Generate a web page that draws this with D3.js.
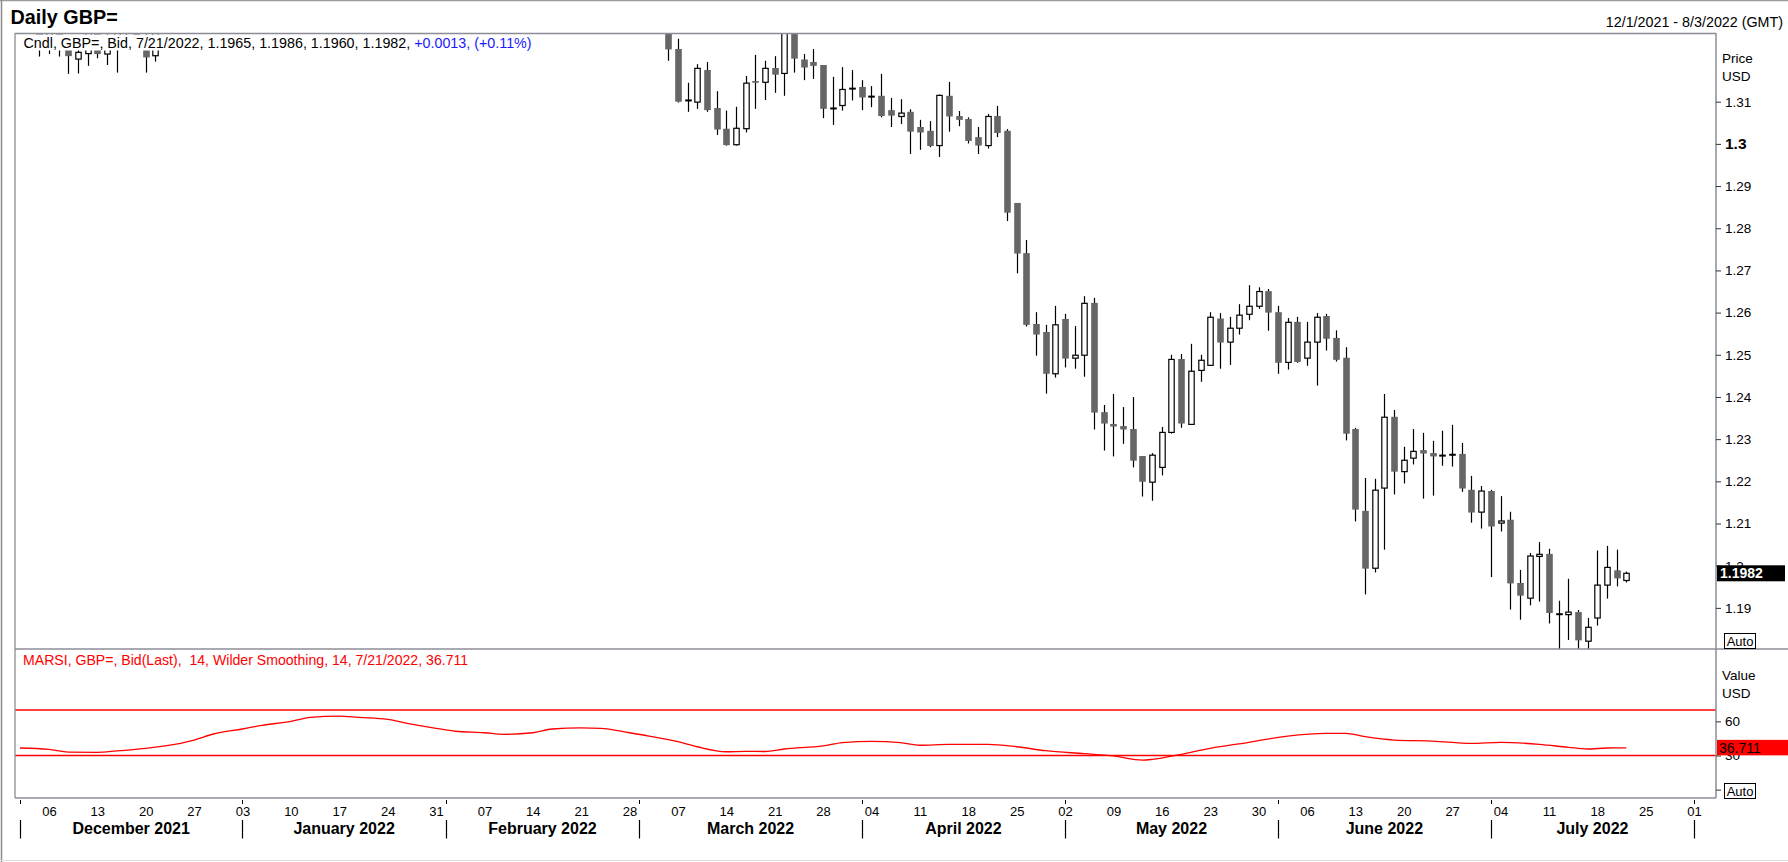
<!DOCTYPE html>
<html><head><meta charset="utf-8">
<script src="https://cdn.jsdelivr.net/npm/d3@7"></script>
<style>
html,body{margin:0;padding:0;background:#fff;overflow:hidden;}
svg{display:block;font-family:"Liberation Sans",Arial,Helvetica,sans-serif;}
</style></head><body>
<svg id="chart" width="1788" height="862"></svg>
<script>
// ---------- DATA ----------
const rangeStart = "2021-12-01";
const rangeEnd = "2022-08-03";

const candleDates = [
 "2021-12-01","2021-12-02","2021-12-03","2021-12-06","2021-12-07","2021-12-08","2021-12-09","2021-12-10",
 "2021-12-13","2021-12-14","2021-12-15","2021-12-16","2021-12-17","2021-12-20","2021-12-21",
 "2022-03-04","2022-03-07","2022-03-08","2022-03-09","2022-03-10","2022-03-11",
 "2022-03-14","2022-03-15","2022-03-16","2022-03-17","2022-03-18",
 "2022-03-21","2022-03-22","2022-03-23","2022-03-24","2022-03-25",
 "2022-03-28","2022-03-29","2022-03-30","2022-03-31","2022-04-01",
 "2022-04-04","2022-04-05","2022-04-06","2022-04-07","2022-04-08",
 "2022-04-11","2022-04-12","2022-04-13","2022-04-14","2022-04-15",
 "2022-04-18","2022-04-19","2022-04-20","2022-04-21","2022-04-22",
 "2022-04-25","2022-04-26","2022-04-27","2022-04-28","2022-04-29",
 "2022-05-02","2022-05-03","2022-05-04","2022-05-05","2022-05-06",
 "2022-05-09","2022-05-10","2022-05-11","2022-05-12","2022-05-13",
 "2022-05-16","2022-05-17","2022-05-18","2022-05-19","2022-05-20",
 "2022-05-23","2022-05-24","2022-05-25","2022-05-26","2022-05-27",
 "2022-05-30","2022-05-31","2022-06-01","2022-06-02","2022-06-03",
 "2022-06-06","2022-06-07","2022-06-08","2022-06-09","2022-06-10",
 "2022-06-13","2022-06-14","2022-06-15","2022-06-16","2022-06-17",
 "2022-06-20","2022-06-21","2022-06-22","2022-06-23","2022-06-24",
 "2022-06-27","2022-06-28","2022-06-29","2022-06-30","2022-07-01",
 "2022-07-04","2022-07-05","2022-07-06","2022-07-07","2022-07-08",
 "2022-07-11","2022-07-12","2022-07-13","2022-07-14","2022-07-15",
 "2022-07-18","2022-07-19","2022-07-20","2022-07-21"
];
const opens = [
 1.3300,1.3275,1.3300,1.3230,1.3265,1.3235,1.3201,1.3214,
 1.3265,1.3213,1.3235,1.3290,1.3330,1.3240,1.3209,
 1.3335,1.3225,1.3103,1.3099,1.3175,1.3085,
 1.3036,1.2998,1.3036,1.3149,1.3146,
 1.3180,1.3167,1.3268,1.3200,1.3194,
 1.3187,1.3084,1.3091,1.3131,1.3135,
 1.3112,1.3114,1.3080,1.3065,1.3076,
 1.3040,1.3031,1.2996,1.3114,1.3066,
 1.3059,1.3016,1.2996,1.3066,1.3031,
 1.2860,1.2741,1.2573,1.2554,1.2455,
 1.2585,1.2492,1.2499,1.2623,1.2364,
 1.2336,1.2331,1.2324,1.2260,1.2198,
 1.2233,1.2316,1.2490,1.2335,1.2463,
 1.2475,1.2586,1.2530,1.2563,1.2596,
 1.2615,1.2651,1.2601,1.2482,1.2578,
 1.2492,1.2530,1.2592,1.2540,1.2493,
 1.2324,1.2130,1.1994,1.2184,1.2353,
 1.2223,1.2255,1.2274,1.2267,1.2261,
 1.2263,1.2265,1.2180,1.2127,1.2177,
 1.2101,1.2109,1.1959,1.1923,1.2022,
 1.2028,1.1885,1.1884,1.1890,1.1821,
 1.1876,1.1954,1.1989,1.1965
];
const highs = [
 1.3370,1.3315,1.3320,1.3290,1.3295,1.3250,1.3232,1.3280,
 1.3290,1.3275,1.3300,1.3375,1.3360,1.3280,1.3290,
 1.3350,1.3249,1.3145,1.3189,1.3194,1.3125,
 1.3079,1.3088,1.3161,1.3211,1.3197,
 1.3208,1.3285,1.3298,1.3213,1.3225,
 1.3187,1.3159,1.3182,1.3175,1.3151,
 1.3137,1.3166,1.3109,1.3106,1.3082,
 1.3057,1.3054,1.3117,1.3147,1.3078,
 1.3063,1.3040,1.3071,1.3090,1.3035,
 1.2860,1.2772,1.2601,1.2571,1.2616,
 1.2597,1.2568,1.2639,1.2635,1.2381,
 1.2407,1.2376,1.2400,1.2260,1.2267,
 1.2329,1.2500,1.2502,1.2526,1.2500,
 1.2601,1.2599,1.2590,1.2620,1.2665,
 1.2660,1.2656,1.2616,1.2587,1.2590,
 1.2578,1.2599,1.2597,1.2558,1.2518,
 1.2327,1.2208,1.2206,1.2407,1.2369,
 1.2282,1.2324,1.2315,1.2296,1.2320,
 1.2334,1.2291,1.2213,1.2189,1.2180,
 1.2165,1.2128,1.1990,1.2030,1.2056,
 1.2040,1.1917,1.1969,1.1895,1.1876,
 1.2036,1.2047,1.2038,1.1986
];
const lows = [
 1.3268,1.3265,1.3207,1.3213,1.3207,1.3166,1.3167,1.3185,
 1.3203,1.3187,1.3169,1.3250,1.3230,1.3169,1.3195,
 1.3197,1.3098,1.3076,1.3083,1.3076,1.3021,
 1.2996,1.2996,1.3027,1.3083,1.3104,
 1.3121,1.3114,1.3169,1.3151,1.3154,
 1.3061,1.3045,1.3079,1.3103,1.3080,
 1.3087,1.3063,1.3040,1.3047,1.2976,
 1.2986,1.2992,1.2969,1.3029,1.3042,
 1.3001,1.2976,1.2989,1.3016,1.2817,
 1.2693,1.2567,1.2498,1.2408,1.2446,
 1.2470,1.2467,1.2448,1.2323,1.2273,
 1.2259,1.2289,1.2233,1.2164,1.2154,
 1.2214,1.2313,1.2327,1.2335,1.2436,
 1.2475,1.2467,1.2476,1.2548,1.2582,
 1.2609,1.2557,1.2455,1.2465,1.2481,
 1.2474,1.2427,1.2510,1.2484,1.2297,
 1.2105,1.1932,1.1984,1.2038,1.2169,
 1.2195,1.2240,1.2159,1.2166,1.2237,
 1.2235,1.2175,1.2102,1.2088,1.1973,
 1.2081,1.1896,1.1872,1.1906,1.1915,
 1.1863,1.1790,1.1824,1.1760,1.1780,
 1.1858,1.1922,1.1951,1.1960
];
const closes = [
 1.3275,1.3300,1.3235,1.3265,1.3235,1.3208,1.3217,1.3265,
 1.3213,1.3240,1.3290,1.3330,1.3240,1.3205,1.3270,
 1.3224,1.3100,1.3103,1.3179,1.3080,1.3034,
 1.2997,1.3037,1.3144,1.3145,1.3179,
 1.3164,1.3270,1.3202,1.3181,1.3185,
 1.3083,1.3084,1.3129,1.3131,1.3110,
 1.3112,1.3066,1.3067,1.3073,1.3029,
 1.3027,1.2995,1.3115,1.3065,1.3057,
 1.3007,1.2996,1.3065,1.3026,1.2837,
 1.2740,1.2571,1.2548,1.2455,1.2571,
 1.2491,1.2499,1.2622,1.2363,1.2337,
 1.2330,1.2323,1.2249,1.2199,1.2262,
 1.2316,1.2489,1.2337,1.2461,1.2487,
 1.2589,1.2529,1.2563,1.2594,1.2615,
 1.2650,1.2600,1.2481,1.2577,1.2483,
 1.2530,1.2589,1.2538,1.2488,1.2313,
 1.2133,1.1993,1.2179,1.2352,1.2223,
 1.2250,1.2271,1.2266,1.2259,1.2261,
 1.2263,1.2183,1.2126,1.2177,1.2093,
 1.2106,1.1958,1.1929,1.2023,1.2027,
 1.1888,1.1885,1.1890,1.1823,1.1854,
 1.1954,1.1996,1.1970,1.1982
];

const rsiDates = [
 "2021-12-01","2021-12-06","2021-12-08","2021-12-13","2021-12-15","2021-12-20","2021-12-22","2021-12-27","2021-12-29",
 "2022-01-03","2022-01-05","2022-01-10","2022-01-12","2022-01-17","2022-01-19","2022-01-24","2022-01-26","2022-01-31",
 "2022-02-02","2022-02-07","2022-02-09","2022-02-14","2022-02-16","2022-02-21","2022-02-23","2022-02-28",
 "2022-03-02","2022-03-07","2022-03-09","2022-03-14","2022-03-16","2022-03-18","2022-03-22","2022-03-28","2022-03-30",
 "2022-04-04","2022-04-07","2022-04-11","2022-04-14","2022-04-20","2022-04-25","2022-04-28",
 "2022-05-04","2022-05-09","2022-05-12","2022-05-13","2022-05-18","2022-05-23","2022-05-27",
 "2022-06-02","2022-06-08","2022-06-10","2022-06-14","2022-06-17","2022-06-23","2022-06-29",
 "2022-07-04","2022-07-08","2022-07-13","2022-07-15","2022-07-19","2022-07-21"
];
const rsiValues = [
 36.6,35.4,33.0,32.8,34.0,36.3,38.4,43.6,48.9,
 53.3,56.5,60.0,63.5,64.7,63.5,61.8,58.3,53.9,
 51.3,50.0,48.6,50.0,53.3,54.2,53.9,50.0,
 47.1,42.1,37.7,33.3,33.6,33.5,35.7,38.4,41.3,
 42.5,41.3,39.0,39.8,39.8,37.7,34.2,
 31.6,29.6,26.0,26.6,31.0,36.3,41.6,
 47.1,49.5,49.5,46.5,43.6,42.7,40.7,
 41.6,39.8,37.2,35.7,36.6,36.711
];

const priceTicks = [1.19,1.20,1.21,1.22,1.23,1.24,1.25,1.26,1.27,1.28,1.29,1.30,1.31];
const rsiTicks = [0,30,60];
const rsiBands = [30,70];
const monthStarts = ["2021-12-01","2022-01-03","2022-02-01","2022-03-01","2022-04-01","2022-05-02","2022-06-01","2022-07-01","2022-08-01"];
const monthNames = ["December 2021","January 2022","February 2022","March 2022","April 2022","May 2022","June 2022","July 2022"];

const titleText = "Daily GBP=";
const rangeText = "12/1/2021 - 8/3/2022 (GMT)";
const legendBlack = "Cndl, GBP=, Bid, 7/21/2022, 1.1965, 1.1986, 1.1960, 1.1982, ";
const legendBlue = "+0.0013, (+0.11%)";
const rsiLegend = "MARSI, GBP=, Bid(Last),\u00a0 14, Wilder Smoothing, 14, 7/21/2022, 36.711";
const lastPrice = 1.1982;
const lastRsi = 36.711;

// ---------- LAYOUT ----------
const P = {left:15, right:1716, top:33, mid:649, bottom:798};
const GRAY = "#8c8c98";
const svg = d3.select("#chart");

const parse = d3.timeParse("%Y-%m-%d");
const fmtKey = d3.timeFormat("%Y-%m-%d");
const days = d3.timeDay.range(parse(rangeStart), d3.timeDay.offset(parse(rangeEnd),1))
  .filter(d => d.getDay() !== 0 && d.getDay() !== 6).map(fmtKey);
const x = d3.scalePoint().domain(days).range([19.9, 1713.4]);
const y = d3.scaleLinear().domain([1.20, 1.31]).range([565.7, 101.7]);
const yR = d3.scaleLinear().domain([30, 70]).range([755.5, 710]);

// outer frame
svg.append("rect").attr("x",0).attr("y",0).attr("width",1788).attr("height",862).attr("fill","#fff");
svg.append("line").attr("x1",0).attr("x2",1788).attr("y1",0.5).attr("y2",0.5).attr("stroke","#9a9a9a").attr("stroke-width",1.5);
svg.append("line").attr("x1",1.5).attr("x2",1.5).attr("y1",0).attr("y2",862).attr("stroke","#8a8a8a").attr("stroke-width",1.5);
svg.append("line").attr("x1",0).attr("x2",1788).attr("y1",860.5).attr("y2",860.5).attr("stroke","#dcdcdc").attr("stroke-width",1);

// title
svg.append("text").attr("x",10.5).attr("y",23.5).attr("font-size",19.8).attr("font-weight","bold").text(titleText);
svg.append("text").attr("x",1783).attr("y",26.5).attr("text-anchor","end").attr("font-size",14.3).text(rangeText);

// clip paths
const defs = svg.append("defs");
defs.append("clipPath").attr("id","clipMain").append("rect")
  .attr("x",P.left).attr("y",P.top).attr("width",P.right-P.left).attr("height",P.mid-P.top);
defs.append("clipPath").attr("id","clipRsi").append("rect")
  .attr("x",P.left).attr("y",P.mid).attr("width",P.right-P.left).attr("height",P.bottom-P.mid);

// ---------- CANDLES ----------
const candles = candleDates.map((d,i)=>({d, o:opens[i], h:highs[i], l:lows[i], c:closes[i]}));
const gC = svg.append("g").attr("clip-path","url(#clipMain)");
gC.selectAll("line.wick").data(candles).join("line").attr("class","wick")
  .attr("x1",d=>Math.round(x(d.d))+0.5).attr("x2",d=>Math.round(x(d.d))+0.5)
  .attr("y1",d=>y(d.h)).attr("y2",d=>y(d.l))
  .attr("stroke","#000").attr("stroke-width",1.2);
const bw = 6.6;
gC.selectAll("rect.body").data(candles).join("rect").attr("class","body")
  .each(function(d){
    const sel = d3.select(this);
    const cx = Math.round(x(d.d))+0.5;
    const top = y(Math.max(d.o,d.c)), bot = y(Math.min(d.o,d.c));
    if (d.o === d.c) {
      sel.attr("x",cx-bw/2).attr("width",bw).attr("y",top-1).attr("height",2).attr("fill","#000");
    } else if (d.c > d.o) {
      sel.attr("x",cx-bw/2+0.6).attr("width",bw-1.2).attr("y",top).attr("height",Math.max(1,bot-top))
        .attr("fill","#fff").attr("stroke","#000").attr("stroke-width",1.2);
    } else {
      sel.attr("x",cx-bw/2).attr("width",bw).attr("y",top).attr("height",Math.max(1.2,bot-top))
        .attr("fill","#666666");
    }
  });

// price legend with white background
const leg = svg.append("g");
const legRect = leg.append("rect").attr("x",20).attr("y",34.5).attr("height",16).attr("fill","#fff");
const legText = leg.append("text").attr("x",23.5).attr("y",48).attr("font-size",14.3);
legText.append("tspan").attr("fill","#000").text(legendBlack);
legText.append("tspan").attr("fill","#1a1aff").text(legendBlue);
legRect.attr("width", legText.node().getComputedTextLength()+6);

// ---------- RSI ----------
const gR = svg.append("g").attr("clip-path","url(#clipRsi)");
gR.selectAll("line.band").data(rsiBands).join("line").attr("class","band")
  .attr("x1",P.left).attr("x2",P.right).attr("y1",d=>yR(d)).attr("y2",d=>yR(d))
  .attr("stroke","#ff0000").attr("stroke-width",1.4);
const rsi = rsiDates.map((d,i)=>({d, v:rsiValues[i]}));
gR.append("path").datum(rsi)
  .attr("d", d3.line().x(d=>x(d.d)).y(d=>yR(d.v)).curve(d3.curveMonotoneX))
  .attr("fill","none").attr("stroke","#ff0000").attr("stroke-width",1.3);
svg.append("text").attr("x",23).attr("y",664.5).attr("font-size",14.1).attr("fill","#ff0000").text(rsiLegend);

// ---------- PANEL BORDERS ----------
svg.append("line").attr("x1",P.left).attr("x2",P.right).attr("y1",P.top+0.5).attr("y2",P.top+0.5).attr("stroke",GRAY).attr("stroke-width",1.3);
svg.append("line").attr("x1",P.left).attr("x2",1788).attr("y1",P.mid).attr("y2",P.mid).attr("stroke",GRAY).attr("stroke-width",1.5);
svg.append("line").attr("x1",P.left).attr("x2",P.right).attr("y1",P.bottom).attr("y2",P.bottom).attr("stroke",GRAY).attr("stroke-width",1.5);
svg.append("line").attr("x1",P.left).attr("x2",P.left).attr("y1",P.top).attr("y2",P.bottom).attr("stroke",GRAY).attr("stroke-width",1.3);
svg.append("line").attr("x1",P.right).attr("x2",P.right).attr("y1",P.top).attr("y2",P.bottom).attr("stroke",GRAY).attr("stroke-width",1.5);

// ---------- PRICE AXIS ----------
const fmtP = d3.format(".2f");
const axP = svg.append("g").attr("transform",`translate(${P.right},0)`)
  .call(d3.axisRight(y).tickValues(priceTicks).tickSize(5).tickPadding(4)
    .tickFormat(d => Math.abs(d-1.30)<1e-9 ? "1.3" : (Math.abs(d-1.20)<1e-9 ? "1.2" : fmtP(d))));
axP.select(".domain").remove();
axP.selectAll(".tick line").attr("stroke","#333");
axP.selectAll(".tick text").attr("font-family","Liberation Sans, Arial, sans-serif").attr("font-size",13.5).attr("fill","#000")
  .filter(d=>Math.abs(d-1.30)<1e-9).attr("font-weight","bold").attr("font-size",15.5);
svg.append("text").attr("x",1722).attr("y",58).attr("dy","0.35em").attr("font-size",13.5).text("Price");
svg.append("text").attr("x",1722).attr("y",76).attr("dy","0.35em").attr("font-size",13.5).text("USD");

// last price label
svg.append("rect").attr("x",1717).attr("y",y(lastPrice)-8).attr("width",68).attr("height",16).attr("fill","#000");
svg.append("text").attr("x",1720).attr("y",y(lastPrice)).attr("dy","0.36em").attr("font-size",14)
  .attr("font-weight","bold").attr("fill","#fff").text(d3.format(".4f")(lastPrice));

// Auto box main
svg.append("rect").attr("x",1724.5).attr("y",633.5).attr("width",31).attr("height",15).attr("fill","#fff").attr("stroke","#000");
svg.append("text").attr("x",1740).attr("y",641).attr("dy","0.36em").attr("text-anchor","middle").attr("font-size",13).text("Auto");

// ---------- RSI AXIS ----------
const axR = svg.append("g").attr("transform",`translate(${P.right},0)`)
  .call(d3.axisRight(yR).tickValues(rsiTicks).tickSize(5).tickPadding(4).tickFormat(d=>d===0?"":d));
axR.select(".domain").remove();
axR.selectAll(".tick line").attr("stroke","#333");
axR.selectAll(".tick text").attr("font-family","Liberation Sans, Arial, sans-serif").attr("font-size",13.5).attr("fill","#000");
svg.append("text").attr("x",1722).attr("y",675).attr("dy","0.35em").attr("font-size",13.5).text("Value");
svg.append("text").attr("x",1722).attr("y",693).attr("dy","0.35em").attr("font-size",13.5).text("USD");
svg.append("rect").attr("x",1717).attr("y",yR(lastRsi)-8).attr("width",71).attr("height",15.5).attr("fill","#ff0000");
svg.append("text").attr("x",1719).attr("y",yR(lastRsi)).attr("dy","0.36em").attr("font-size",14)
  .attr("fill","#000").text(d3.format(".3f")(lastRsi));
svg.append("rect").attr("x",1724.5).attr("y",783.5).attr("width",31).attr("height",15).attr("fill","#fff").attr("stroke","#000");
svg.append("text").attr("x",1740).attr("y",791).attr("dy","0.36em").attr("text-anchor","middle").attr("font-size",13).text("Auto");

// ---------- DATE AXIS ----------
const mondays = d3.timeMonday.range(parse(rangeStart), d3.timeDay.offset(parse(rangeEnd),1)).map(fmtKey);
const axD = svg.append("g").attr("transform",`translate(0,${P.bottom})`)
  .call(d3.axisBottom(x).tickValues(mondays).tickSize(0).tickPadding(9)
    .tickFormat(k => d3.timeFormat("%d")(parse(k))));
axD.select(".domain").remove();
axD.selectAll(".tick text").attr("font-family","Liberation Sans, Arial, sans-serif").attr("font-size",13).attr("fill","#000");
// month-start ticks
svg.append("g").selectAll("line").data(monthStarts).join("line")
  .attr("x1",d=>Math.round(x(d))+0.5).attr("x2",d=>Math.round(x(d))+0.5).attr("y1",P.bottom+2).attr("y2",P.bottom+6)
  .attr("stroke","#000").attr("stroke-width",1);
// month separators
svg.append("g").selectAll("line").data(monthStarts).join("line")
  .attr("x1",d=>Math.round(x(d))+0.5).attr("x2",d=>Math.round(x(d))+0.5).attr("y1",820).attr("y2",838.5)
  .attr("stroke","#000").attr("stroke-width",1.2);
// month labels
svg.append("g").selectAll("text").data(monthNames).join("text")
  .attr("x",(d,i)=>(x(monthStarts[i])+x(monthStarts[i+1]))/2).attr("y",833.5)
  .attr("text-anchor","middle").attr("font-size",16).attr("font-weight","bold").text(d=>d);
</script>
</body></html>
